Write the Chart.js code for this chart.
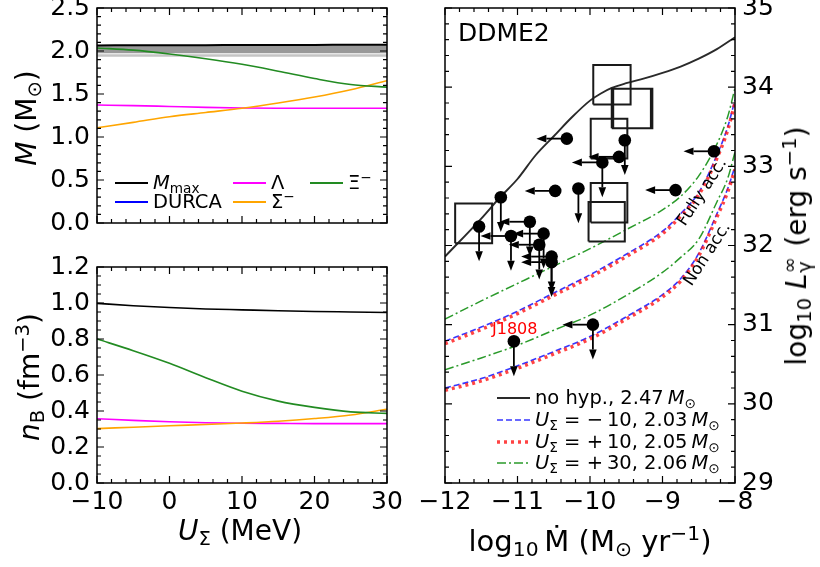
<!DOCTYPE html>
<html>
<head>
<meta charset="utf-8">
<script src="https://cdn.jsdelivr.net/npm/chart.js@4.4.0/dist/chart.umd.min.js"></script>
<style>
body{margin:0;background:#fff}
#wrap{position:relative;width:820px;height:567px;overflow:hidden;background:#fff;font-family:'DejaVu Sans',sans-serif}
.box{position:absolute}
.lbl{position:absolute;white-space:nowrap;line-height:1;color:#000}
.lbl sub{font-size:70%;vertical-align:-0.28em;line-height:0}
.lbl sup{font-size:70%;vertical-align:0.5em;line-height:0}
.c{transform:translate(-50%,-50%)}
.v{transform:translate(-50%,-50%) rotate(-90deg)}
.m{transform:translateY(-50%)}
</style>
</head>
<body>
<div id="wrap">
  <div class="box" style="left:0;top:0;width:415px;height:245px"><canvas id="cM"></canvas></div>
  <div class="box" style="left:0;top:245px;width:415px;height:322px"><canvas id="cN"></canvas></div>
  <div class="box" style="left:415px;top:0;width:405px;height:567px"><canvas id="cL"></canvas></div>
</div>
<script>
// ---- left panels: hyperon thresholds vs U_Sigma
const uSigma  = [-10, -5, 0, 5, 10, 15, 20, 25, 30];
const mMax    = [2.065, 2.066, 2.067, 2.068, 2.069, 2.070, 2.071, 2.072, 2.073];
const mLambda = [1.372, 1.365, 1.355, 1.345, 1.338, 1.335, 1.334, 1.334, 1.334];
const mSigma  = [1.108, 1.170, 1.236, 1.285, 1.334, 1.395, 1.465, 1.550, 1.655];
const mXi     = [2.035, 2.010, 1.965, 1.910, 1.845, 1.765, 1.680, 1.610, 1.580];
const bandX     = [-10, 30];
const bandDark  = [1.975, 2.066];
const bandLight = [1.932, 1.962];

const nMax    = [0.998, 0.985, 0.975, 0.967, 0.962, 0.957, 0.953, 0.950, 0.947];
const nLambda = [0.357, 0.348, 0.340, 0.335, 0.332, 0.331, 0.330, 0.330, 0.330];
const nSigma  = [0.302, 0.310, 0.318, 0.325, 0.333, 0.343, 0.358, 0.378, 0.410];
const nXi     = [0.800, 0.735, 0.665, 0.585, 0.510, 0.455, 0.420, 0.395, 0.387];

// ---- right panel: cooling curves vs accretion rate
const noHypX = [-12, -11.5, -11.25, -11, -10.75, -10.5, -10.25, -10, -9.85, -9.7, -9.5, -9.25, -9, -8.75, -8.5, -8.25, -8];
const noHypL = [31.86, 32.34, 32.60, 32.84, 33.14, 33.38, 33.62, 33.83, 33.92, 33.99, 34.05, 34.11, 34.18, 34.26, 34.36, 34.48, 34.63];
const mdotX = [-12, -11.5, -11, -10.5, -10, -9.5, -9, -8.75, -8.5, -8.25, -8.1, -8];
const fullM10 = [30.79, 30.97, 31.17, 31.40, 31.63, 31.89, 32.18, 32.40, 32.67, 33.14, 33.50, 33.84];
const fullP10 = [30.76, 30.94, 31.14, 31.37, 31.60, 31.86, 32.15, 32.37, 32.64, 33.10, 33.46, 33.80];
const fullP30 = [31.07, 31.30, 31.52, 31.74, 31.96, 32.20, 32.45, 32.62, 32.88, 33.28, 33.63, 33.99];
const nonM10  = [30.20, 30.32, 30.48, 30.66, 30.85, 31.10, 31.38, 31.58, 31.90, 32.40, 32.72, 33.00];
const nonP10  = [30.17, 30.29, 30.45, 30.63, 30.82, 31.07, 31.35, 31.55, 31.87, 32.36, 32.68, 32.96];
const nonP30  = [30.43, 30.58, 30.74, 30.93, 31.12, 31.37, 31.66, 31.85, 32.08, 32.55, 32.85, 33.18];

// observed sources (upper limits: left = on Mdot, down = on L)
const srcX = [-10.32, -9.52, -9.60, -9.83, -10.48, -10.16, -8.82, -8.29, -11.23, -11.53, -10.83, -11.09, -10.64, -10.70, -10.53, -10.53, -11.05, -9.96];
const srcL = [33.35, 33.33, 33.12, 33.05, 32.69, 32.72, 32.70, 33.19, 32.61, 32.24, 32.30, 32.12, 32.15, 32.01, 31.86, 31.79, 30.79, 31.00];
const srcLeft = [1, 0, 1, 1, 1, 0, 1, 1, 0, 0, 1, 1, 1, 1, 1, 1, 0, 1];
const srcDown = [0, 1, 0, 1, 0, 1, 0, 0, 1, 1, 1, 1, 1, 1, 1, 1, 1, 1];
const limDx = 0.42, limDL = 0.44;
// error boxes
const boxX0 = [-11.86, -9.955, -9.70, -9.68, -9.99, -9.99, -10.02];
const boxX1 = [-11.35, -9.44, -9.16, -9.14, -9.485, -9.485, -9.52];
const boxL0 = [32.03, 33.78, 33.48, 33.48, 33.10, 32.29, 32.05];
const boxL1 = [32.53, 34.28, 33.98, 33.98, 33.60, 32.79, 32.55];

const pts = (xs, ys) => xs.map((x, i) => ({x: x, y: ys[i]}));
const minus = v => (v < 0 ? '\u2212' : '') + Math.abs(v);

Chart.defaults.font.family = "'DejaVu Sans', sans-serif";
Chart.defaults.color = '#000';

// frame + inward major/minor ticks on all four sides
const frameTicks = {
  id: 'frameTicks',
  afterDraw(chart, args, o) {
    const ctx = chart.ctx, a = chart.chartArea;
    const xs = chart.scales.x, ys = chart.scales.y;
    ctx.save();
    ctx.strokeStyle = '#000';
    ctx.lineWidth = 1.2;
    const each = (sc, minor, major, fn) => {
      const n = Math.round((sc.max - sc.min) / minor);
      for (let i = 0; i <= n; i++) {
        const v = sc.min + i * minor;
        const big = Math.abs(v / major - Math.round(v / major)) < 1e-6;
        fn(sc.getPixelForValue(v), big ? 7 : 4);
      }
    };
    ctx.beginPath();
    each(xs, o.xMinor, o.xMajor, (p, l) => {
      ctx.moveTo(p, a.bottom); ctx.lineTo(p, a.bottom - l);
      ctx.moveTo(p, a.top); ctx.lineTo(p, a.top + l);
    });
    each(ys, o.yMinor, o.yMajor, (p, l) => {
      ctx.moveTo(a.left, p); ctx.lineTo(a.left + l, p);
      ctx.moveTo(a.right, p); ctx.lineTo(a.right - l, p);
    });
    ctx.stroke();
    ctx.lineWidth = 1.5;
    ctx.strokeRect(a.left, a.top, a.right - a.left, a.bottom - a.top);
    ctx.restore();
  }
};

// upper-limit arrows for the sources
const limitArrows = {
  id: 'limitArrows',
  afterDatasetsDraw(chart) {
    const ctx = chart.ctx, xs = chart.scales.x, ys = chart.scales.y;
    ctx.save();
    ctx.strokeStyle = '#000'; ctx.fillStyle = '#000'; ctx.lineWidth = 1.8;
    const arrow = (x0, y0, x1, y1) => {
      const ang = Math.atan2(y1 - y0, x1 - x0), hl = 10, hw = 3.8;
      const bx = x1 - Math.cos(ang) * hl, by = y1 - Math.sin(ang) * hl;
      ctx.beginPath(); ctx.moveTo(x0, y0); ctx.lineTo(bx, by); ctx.stroke();
      ctx.beginPath();
      ctx.moveTo(x1, y1);
      ctx.lineTo(bx - Math.sin(ang) * hw, by + Math.cos(ang) * hw);
      ctx.lineTo(bx + Math.sin(ang) * hw, by - Math.cos(ang) * hw);
      ctx.closePath(); ctx.fill();
    };
    srcX.forEach((x, i) => {
      const px = xs.getPixelForValue(x), py = ys.getPixelForValue(srcL[i]);
      if (srcLeft[i]) arrow(px, py, xs.getPixelForValue(x - limDx), py);
      if (srcDown[i]) arrow(px, py, px, ys.getPixelForValue(srcL[i] - limDL));
    });
    ctx.restore();
  }
};

const tickFont = {size: 25};
const noGrid = {display: false, drawTicks: false};
function line(data, color, w, extra) {
  return Object.assign({data: data, borderColor: color, borderWidth: w, pointRadius: 0,
    fill: false, cubicInterpolationMode: 'monotone'}, extra || {});
}
function baseOpts(pad, xs, ys, ft) {
  return {
    responsive: true, maintainAspectRatio: false, animation: false,
    layout: {padding: pad},
    plugins: {legend: {display: false}, tooltip: {enabled: false}, frameTicks: ft},
    scales: {x: xs, y: ys}
  };
}
const fixW = w => a => { a.width = w; a.paddingTop = 0; a.paddingBottom = 0; };
const fixH = h => a => { a.height = h; a.paddingLeft = 0; a.paddingRight = 0; };

// top-left: threshold masses
new Chart(document.getElementById('cM'), {
  type: 'line',
  data: {datasets: [
    line(pts(uSigma, mXi), '#228b22', 1.6, {order: 1}),
    line(pts(uSigma, mSigma), '#ffa500', 1.6, {order: 2}),
    line(pts(uSigma, mLambda), '#ff00ff', 1.6, {order: 3}),
    line(pts(uSigma, mMax), '#000', 2, {order: 4}),
    line(pts(bandX, [bandDark[0], bandDark[0]]), 'rgba(0,0,0,0)', 0, {order: 10}),
    line(pts(bandX, [bandDark[1], bandDark[1]]), 'rgba(0,0,0,0)', 0, {order: 9, fill: '-1', backgroundColor: '#999999'}),
    line(pts(bandX, [bandLight[0], bandLight[0]]), 'rgba(0,0,0,0)', 0, {order: 12}),
    line(pts(bandX, [bandLight[1], bandLight[1]]), 'rgba(0,0,0,0)', 0, {order: 11, fill: '-1', backgroundColor: '#c4c4c4'})
  ]},
  options: baseOpts({left: 0, right: 28, top: 8, bottom: 22},
    {type: 'linear', min: -10, max: 30, display: false},
    {type: 'linear', min: 0, max: 2.5, grid: noGrid, border: {display: false},
     ticks: {stepSize: 0.5, font: tickFont, padding: 7, callback: v => v.toFixed(1)}, afterFit: fixW(97)},
    {xMinor: 2, xMajor: 10, yMinor: 0.1, yMajor: 0.5}),
  plugins: [frameTicks]
});

// bottom-left: threshold densities
new Chart(document.getElementById('cN'), {
  type: 'line',
  data: {datasets: [
    line(pts(uSigma, nXi), '#228b22', 1.6, {order: 1}),
    line(pts(uSigma, nSigma), '#ffa500', 1.6, {order: 2}),
    line(pts(uSigma, nLambda), '#ff00ff', 1.6, {order: 3}),
    line(pts(uSigma, nMax), '#000', 1.6, {order: 4})
  ]},
  options: baseOpts({left: 0, right: 28, top: 22, bottom: 0},
    {type: 'linear', min: -10, max: 30, grid: noGrid, border: {display: false},
     ticks: {stepSize: 10, font: tickFont, padding: 4, maxRotation: 0, autoSkip: false, callback: minus}, afterFit: fixH(84)},
    {type: 'linear', min: 0, max: 1.2, grid: noGrid, border: {display: false},
     ticks: {stepSize: 0.2, font: tickFont, padding: 7, callback: v => v.toFixed(1)}, afterFit: fixW(97)},
    {xMinor: 2, xMajor: 10, yMinor: 0.05, yMajor: 0.2}),
  plugins: [frameTicks]
});

// right: luminosity vs accretion rate
const boxData = [];
boxX0.forEach((x0, i) => {
  const x1 = boxX1[i], l0 = boxL0[i], l1 = boxL1[i];
  boxData.push({x: x0, y: l0}, {x: x1, y: l0}, {x: x1, y: l1}, {x: x0, y: l1}, {x: x0, y: l0}, {x: x0, y: null});
});
const blue = 'rgba(20,20,255,0.85)', red = 'rgba(255,20,20,0.8)', green = '#2a9a2a';
new Chart(document.getElementById('cL'), {
  type: 'line',
  data: {datasets: [
    {data: pts(srcX, srcL), showLine: false, pointRadius: 6.3, pointBackgroundColor: '#000', pointBorderWidth: 0, order: 0},
    {data: boxData, borderColor: '#1a1a1a', borderWidth: 2, pointRadius: 0, spanGaps: false, tension: 0, order: 1},
    line(pts(mdotX, fullP10), red, 3.5, {borderDash: [3, 4], order: 2}),
    line(pts(mdotX, nonP10), red, 3.5, {borderDash: [3, 4], order: 2}),
    line(pts(mdotX, fullM10), blue, 1.6, {borderDash: [6, 3], order: 3}),
    line(pts(mdotX, nonM10), blue, 1.6, {borderDash: [6, 3], order: 3}),
    line(pts(mdotX, fullP30), green, 1.5, {borderDash: [9, 3, 2, 3], order: 4}),
    line(pts(mdotX, nonP30), green, 1.5, {borderDash: [9, 3, 2, 3], order: 4}),
    line(pts(noHypX, noHypL), '#2a2a2a', 1.9, {order: 5})
  ]},
  options: baseOpts({left: 30, right: 0, top: 8, bottom: 0},
    {type: 'linear', min: -12, max: -8, grid: noGrid, border: {display: false},
     ticks: {stepSize: 1, font: tickFont, padding: 4, maxRotation: 0, autoSkip: false, callback: minus}, afterFit: fixH(84)},
    {type: 'linear', position: 'right', min: 29, max: 35, grid: noGrid, border: {display: false},
     ticks: {stepSize: 1, font: tickFont, padding: 7, autoSkip: false}, afterFit: fixW(85)},
    {xMinor: 0.2, xMajor: 1, yMinor: 0.2, yMajor: 1}),
  plugins: [frameTicks, limitArrows]
});

// ---- text overlays (axis titles, legends, annotations)
const wrap = document.getElementById('wrap');
function put(html, x, y, cls, style) {
  const d = document.createElement('div');
  d.className = 'lbl ' + cls;
  d.style.left = x + 'px'; d.style.top = y + 'px';
  if (style) d.style.cssText += style;
  d.innerHTML = html;
  wrap.appendChild(d);
}
function sample(x0, x1, y, color, w, dash) {
  const s = document.createElementNS('http://www.w3.org/2000/svg', 'svg');
  s.setAttribute('width', x1 - x0); s.setAttribute('height', 12);
  s.style.cssText = 'position:absolute;left:' + x0 + 'px;top:' + (y - 6) + 'px';
  s.innerHTML = '<line x1="0" y1="6" x2="' + (x1 - x0) + '" y2="6" stroke="' + color +
    '" stroke-width="' + w + '" stroke-dasharray="' + (dash || 'none') + '"/>';
  wrap.appendChild(s);
}
const big = 'font-size:28px';
put('<i>M</i> (M<sub>\u2299</sub>)', 27, 118, 'v', big);
put('<i>n</i><sub>B</sub> (fm<sup>\u22123</sup>)', 30, 377, 'v', big);
put('<i>U</i><sub>\u03a3</sub> (MeV)', 240, 531, 'c', big);
put('log<sub>10</sub>\u2009\u1e40 (M<sub>\u2299</sub> yr<sup>\u22121</sup>)', 590, 541, 'c', 'font-size:29px');
put('log<sub>10</sub> <i>L</i><sup>\u221e</sup><sub style="margin-left:-0.8em">\u03b3</sub>\u2009 (erg s<sup>\u22121</sup>)', 797, 246, 'v', big);

// left legend (column-major, 3 columns)
const legL = [
  {h: '<i>M</i><sub>max</sub>', c: '#000', x: 115, y: 183},
  {h: 'DURCA', c: '#0000ff', x: 115, y: 202},
  {h: '\u039b', c: '#ff00ff', x: 233, y: 183},
  {h: '\u03a3<sup>\u2212</sup>', c: '#ffa500', x: 233, y: 202},
  {h: '\u039e<sup>\u2212</sup>', c: '#228b22', x: 310, y: 183}
];
legL.forEach(e => {
  sample(e.x, e.x + 33, e.y, e.c, 2);
  put(e.h, e.x + 38, e.y, 'm', 'font-size:19.5px');
});

// right legend
const Msun = '<i>M</i><sub>\u2299</sub>';
const legR = [
  {h: 'no hyp., 2.47\u2009' + Msun, c: '#2a2a2a', w: 1.9, d: ''},
  {h: '<i>U</i><sub>\u03a3</sub> = \u2212\u200910, 2.03\u2009' + Msun, c: blue, w: 1.6, d: '6 3'},
  {h: '<i>U</i><sub>\u03a3</sub> = +\u200910, 2.05\u2009' + Msun, c: red, w: 3.5, d: '3 4'},
  {h: '<i>U</i><sub>\u03a3</sub> = +\u200930, 2.06\u2009' + Msun, c: green, w: 1.5, d: '9 3 2 3'}
];
const legRy = [397.5, 420, 442, 463];
legR.forEach((e, i) => {
  sample(497, 530, legRy[i], e.c, e.w, e.d);
  put(e.h, 535, legRy[i], 'm', 'font-size:19.5px');
});

put('DDME2', 458, 32, 'm', 'font-size:25px');
put('J1808', 492, 329, 'm', 'font-size:16px;color:#ff0000');
put('Fully acc.', 702, 192, 'c', 'font-size:16.5px;transform:translate(-50%,-50%) rotate(-57deg)');
put('Non acc.', 707, 254, 'c', 'font-size:16.5px;transform:translate(-50%,-50%) rotate(-57deg)');
</script>
</body>
</html>
